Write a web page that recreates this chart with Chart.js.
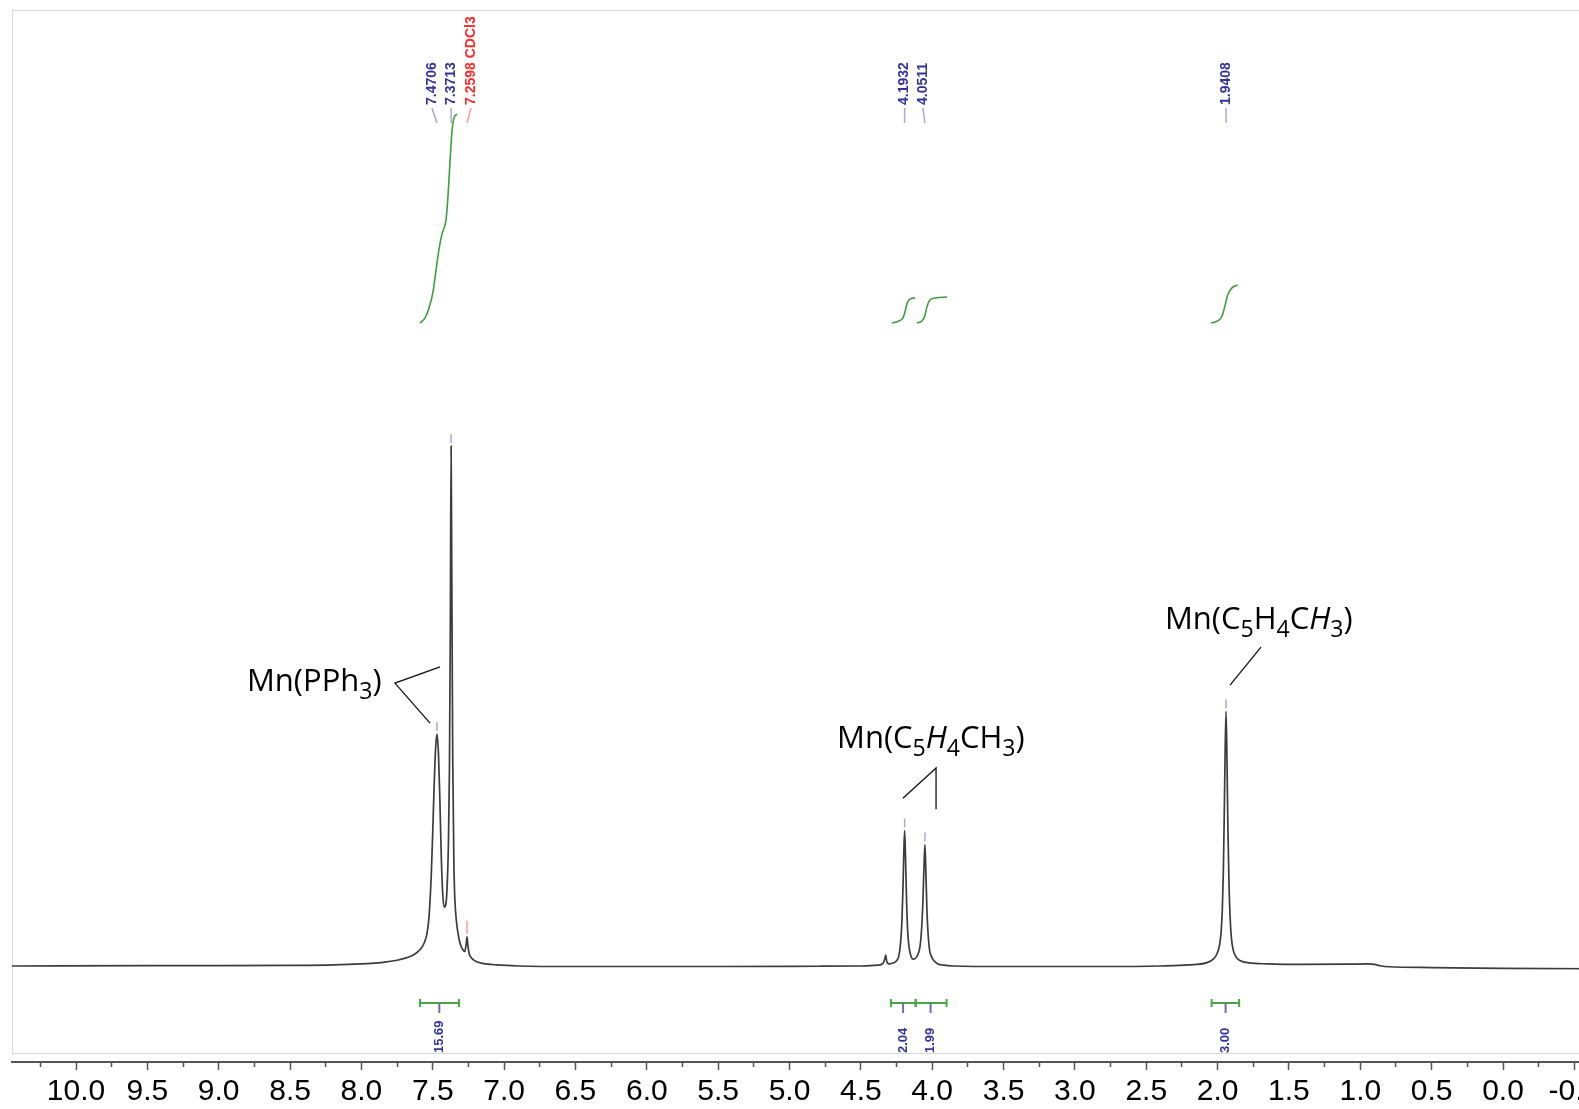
<!DOCTYPE html>
<html>
<head>
<meta charset="utf-8">
<style>
    html, body { margin:0; padding:0; background:#fff; overflow:hidden; }
    .frame { position:absolute; left:12px; top:10px; width:1700px; height:1042px; border:1.5px solid #d8d8d8; border-right:none; }
    .canvas-hold { position:absolute; left:0; top:0; width:1760px; height:1114px; }
</style>
</head>
<body>
    <div class="frame"></div>
    <div class="canvas-hold"><canvas width="1760" height="1114"></canvas></div>
    <script src="https://cdn.jsdelivr.net/npm/chart.js@4.4.1/dist/chart.umd.min.js"></script>
    <script>
        // 1H spectrum, chemical shift (ppm) against intensity (tallest line = 100)
        const shift = [10.448, 9.5, 9.0, 8.5, 8.2, 8.0, 7.85, 7.75, 7.68, 7.63, 7.59, 7.56, 7.54, 7.525, 7.51, 7.50, 7.49, 7.48, 7.4706,
            7.46, 7.45, 7.44, 7.43, 7.42, 7.41, 7.40, 7.39, 7.383, 7.377, 7.3713, 7.366, 7.36, 7.352, 7.345, 7.333, 7.32, 7.309,
            7.297, 7.286, 7.275, 7.266, 7.2598, 7.254, 7.245, 7.23, 7.20, 7.15, 7.05, 6.90, 6.50, 5.50, 4.80, 4.50, 4.38, 4.345,
            4.332, 4.326, 4.318, 4.30, 4.27, 4.25, 4.235, 4.222, 4.212, 4.205, 4.199, 4.1932, 4.187, 4.18, 4.172, 4.162, 4.15,
            4.135, 4.12, 4.10, 4.085, 4.075, 4.066, 4.059, 4.0511, 4.045, 4.037, 4.028, 4.018, 4.005, 3.99, 3.96, 3.92, 3.85,
            3.50, 2.80, 2.40, 2.20, 2.08, 2.03, 2.005, 1.988, 1.976, 1.967, 1.96, 1.954, 1.948, 1.9408, 1.934, 1.928, 1.921,
            1.913, 1.903, 1.89, 1.87, 1.84, 1.78, 1.65, 1.40, 1.10, 0.95, 0.90, 0.86, 0.80, 0.50, 0.00, -0.80, -1.46];
        const intensity = [0.2, 0.25, 0.25, 0.3, 0.4, 0.6, 0.9, 1.3, 1.8, 2.4, 3.3, 4.6, 6.5, 10, 18, 26, 35, 42, 44.7,
            41, 32, 21, 14, 11.5, 11.8, 15, 24, 38, 65, 100, 72, 40, 20, 13, 8.5, 6, 4.6,
            3.7, 3.2, 3.0, 4.4, 5.8, 4.2, 2.6, 1.8, 1.1, 0.7, 0.4, 0.2, 0.1, 0.1, 0.15, 0.2, 0.35, 0.7,
            1.6, 2.3, 1.0, 0.6, 0.8, 1.2, 2.0, 4.5, 9, 15, 22, 26.2, 21, 13, 7, 3.8, 2.2,
            1.5, 1.6, 2.4, 4.0, 7, 12, 18, 23.5, 19, 11, 6, 3.2, 2.0, 1.3, 0.6, 0.35, 0.2,
            0.1, 0.1, 0.2, 0.4, 0.8, 1.5, 2.5, 4.0, 6.5, 11, 18, 28, 40, 49.1, 39, 27, 17,
            10, 5.5, 3.2, 1.9, 1.2, 0.8, 0.6, 0.5, 0.55, 0.6, 0.5, 0.25, 0.05, -0.1, -0.25, -0.35, -0.4];

        // picked peaks
        const peakShift = [7.4706, 7.3713, 7.2598, 4.1932, 4.0511, 1.9408];
        const peakHeight = [44.7, 100, 5.8, 26.2, 23.5, 49.1];
        const peakLabel = ['7.4706', '7.3713', '7.2598 CDCl3', '4.1932', '4.0511', '1.9408'];

        // integral traces (running sums drawn above the spectrum)
        const intArylX = [7.589, 7.554, 7.526, 7.498, 7.477, 7.456, 7.435, 7.421, 7.407, 7.393, 7.379, 7.365, 7.351, 7.330];
        const intArylY = [123.6, 124.6, 126.5, 129.6, 133.8, 137.8, 140.7, 141.8, 143.4, 148.0, 154.7, 160.5, 163.0, 163.7];
        const intCp1X = [4.282, 4.233, 4.205, 4.191, 4.177, 4.156, 4.120];
        const intCp1Y = [123.6, 124.0, 124.6, 125.7, 127.3, 128.2, 128.4];
        const intCp2X = [4.107, 4.072, 4.051, 4.037, 4.016, 3.980, 3.896];
        const intCp2Y = [123.6, 124.0, 125.0, 126.7, 128.0, 128.4, 128.6];
        const intMeX = [2.046, 1.999, 1.971, 1.950, 1.929, 1.901, 1.860];
        const intMeY = [123.6, 124.0, 124.8, 126.7, 129.0, 130.3, 130.9];

        // integration regions under the axis
        const integralFrom = [7.589, 4.289, 4.116, 2.042];
        const integralTo = [7.316, 4.116, 3.899, 1.849];
        const integralMark = [7.454, 4.204, 4.011, 1.944];
        const integralValue = ['15.69', '2.04', '1.99', '3.00'];

        // assignments: text parts [text, style], anchor (ppm, intensity), leader polylines
        const assignText = [
            [['Mn(PPh', ''], ['3', 'sub'], [')', '']],
            [['Mn(C', ''], ['5', 'sub'], ['H', 'it'], ['4', 'sub'], ['CH', ''], ['3', 'sub'], [')', '']],
            [['Mn(C', ''], ['5', 'sub'], ['H', ''], ['4', 'sub'], ['C', ''], ['H', 'it'], ['3', 'sub'], [')', '']]
        ];
        const assignAt = [[8.802, 53.0], [4.667, 42.0], [2.369, 64.9]];
        const assignLeaders = [
            [[[7.449, 57.6], [7.765, 54.5], [7.519, 46.8]]],
            [[[4.205, 32.4], [3.973, 38.2], [3.973, 30.3]]],
            [[[1.696, 61.4], [1.913, 54.1]]]
        ];

        const xy = (xs, ys) => xs.map((v, i) => ({x: v, y: ys[i]}));
        const labelNudge = [-5, 0, 4, 0, -2, 0];

        const decor = {
            id: 'decor',
            afterDatasetsDraw(chart) {
                const {ctx, scales: {x, y}} = chart;
                ctx.save();
                ctx.lineCap = 'butt';

                // peak labels across the top
                peakShift.forEach((p, i) => {
                    const px = x.getPixelForValue(p);
                    const py = y.getPixelForValue(peakHeight[i]);
                    const solvent = peakLabel[i].indexOf('CDCl3') >= 0;
                    const tx = px + labelNudge[i];
                    ctx.strokeStyle = solvent ? '#ff9a9a' : '#a9a9dc';
                    ctx.lineWidth = 1.5;
                    ctx.beginPath();
                    ctx.moveTo(px, py - (solvent ? 16 : 12));
                    ctx.lineTo(px, py - 3);
                    ctx.stroke();
                    ctx.beginPath();
                    ctx.moveTo(tx, 108);
                    ctx.lineTo(px, 123);
                    ctx.stroke();
                    ctx.save();
                    ctx.translate(tx, 105);
                    ctx.rotate(-Math.PI / 2);
                    ctx.fillStyle = solvent ? '#ff2a2a' : '#34349a';
                    ctx.font = 'bold 14px "Liberation Sans"';
                    ctx.textBaseline = 'middle';
                    ctx.fillText(peakLabel[i], 0, 0);
                    ctx.restore();
                });

                // integration brackets and values
                const yb = y.getPixelForValue(-6.9);
                const yl = y.getPixelForValue(-16.5);
                integralFrom.forEach((a, i) => {
                    const x1 = x.getPixelForValue(a), x2 = x.getPixelForValue(integralTo[i]);
                    const xm = x.getPixelForValue(integralMark[i]);
                    ctx.strokeStyle = '#45a845';
                    ctx.lineWidth = 2;
                    ctx.beginPath();
                    ctx.moveTo(x1, yb); ctx.lineTo(x2, yb);
                    ctx.moveTo(x1, yb - 4); ctx.lineTo(x1, yb + 4);
                    ctx.moveTo(x2, yb - 4); ctx.lineTo(x2, yb + 4);
                    ctx.stroke();
                    ctx.strokeStyle = '#6c6cb8';
                    ctx.beginPath();
                    ctx.moveTo(xm, yb); ctx.lineTo(xm, yb + 10);
                    ctx.stroke();
                    ctx.save();
                    ctx.translate(xm, yl);
                    ctx.rotate(-Math.PI / 2);
                    ctx.fillStyle = '#34349a';
                    ctx.font = 'bold 13px "Liberation Sans"';
                    ctx.textBaseline = 'middle';
                    ctx.fillText(integralValue[i], 0, 0);
                    ctx.restore();
                });

                // assignment labels with leader lines
                ctx.strokeStyle = '#111';
                ctx.lineWidth = 1.3;
                assignLeaders.forEach(group => group.forEach(line => {
                    ctx.beginPath();
                    line.forEach(([p, v], k) => {
                        const lx = x.getPixelForValue(p), ly = y.getPixelForValue(v);
                        if (k === 0) ctx.moveTo(lx, ly); else ctx.lineTo(lx, ly);
                    });
                    ctx.stroke();
                }));
                ctx.fillStyle = '#000';
                ctx.textBaseline = 'alphabetic';
                assignText.forEach((parts, i) => {
                    let tx = x.getPixelForValue(assignAt[i][0]);
                    const ty = y.getPixelForValue(assignAt[i][1]);
                    parts.forEach(([t, style]) => {
                        const sub = style === 'sub';
                        ctx.font = (style === 'it' ? 'italic ' : '') + (sub ? 23 : 31) + 'px "Open Sans"';
                        ctx.fillText(t, tx, ty + (sub ? 8 : 0));
                        tx += ctx.measureText(t).width;
                    });
                });
                ctx.restore();
            }
        };

        const isMajor = v => Math.round(v * 4) % 2 === 0;
        const integralStyle = {borderColor: '#3f9f3f', borderWidth: 1.6, pointRadius: 0, cubicInterpolationMode: 'monotone'};

        let canvas = document.querySelector('canvas');
        let chart = new Chart(canvas.getContext('2d'), {
            type: 'line',
            data: {
                datasets: [
                    {label: 'spectrum', data: xy(shift, intensity), borderColor: '#3c3c3c', borderWidth: 1.7,
                        pointRadius: 0, cubicInterpolationMode: 'monotone'},
                    Object.assign({label: 'int1', data: xy(intArylX, intArylY)}, integralStyle),
                    Object.assign({label: 'int2', data: xy(intCp1X, intCp1Y)}, integralStyle),
                    Object.assign({label: 'int3', data: xy(intCp2X, intCp2Y)}, integralStyle),
                    Object.assign({label: 'int4', data: xy(intMeX, intMeY)}, integralStyle)
                ]
            },
            options: {
                responsive: false,
                devicePixelRatio: 1,
                animation: false,
                layout: {padding: {left: 12, right: 48, top: 0, bottom: 0}},
                plugins: {legend: {display: false}, tooltip: {enabled: false}},
                scales: {
                    x: {
                        type: 'linear', reverse: true, min: -1.4646, max: 10.4485,
                        ticks: {
                            stepSize: 0.25, includeBounds: false, autoSkip: false, maxRotation: 0, padding: 4,
                            color: '#000', font: {family: 'Liberation Sans', size: 30},
                            callback: v => isMajor(v) ? v.toFixed(1) : ''
                        },
                        grid: {
                            drawOnChartArea: false, drawTicks: true, tickLength: 8, tickColor: '#555', tickWidth: 1.5,
                            tickBorderDash: c => (c.tick && isMajor(c.tick.value)) ? [] : [4, 20]
                        },
                        border: {color: '#555', width: 2}
                    },
                    y: {type: 'linear', display: false, min: -18.23, max: 185.6}
                }
            },
            plugins: [decor]
        });
    </script>
</body>
</html>
